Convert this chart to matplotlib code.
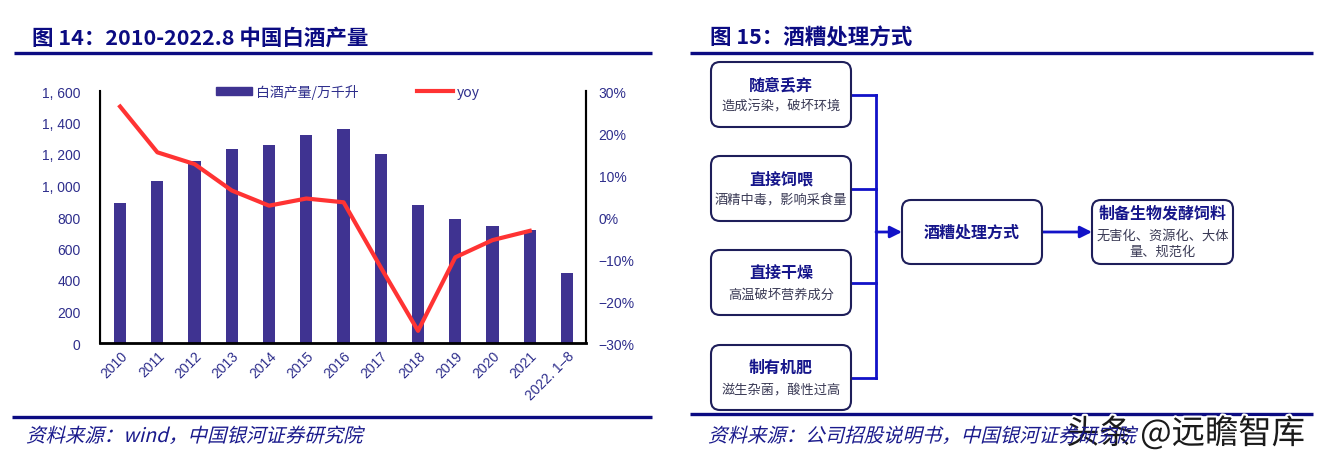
import matplotlib
matplotlib.use('Agg')
import matplotlib.pyplot as plt
from matplotlib.patches import FancyBboxPatch, PathPatch, Patch
from matplotlib.lines import Line2D
from matplotlib.textpath import TextPath
from matplotlib.font_manager import FontProperties
from matplotlib.transforms import Affine2D, IdentityTransform
import matplotlib.patheffects as pe
import numpy as np

plt.rcParams['font.family'] = ['Noto Sans CJK SC', 'DejaVu Sans']

# data
years = ['2010', '2011', '2012', '2013', '2014', '2015', '2016', '2017',
         '2018', '2019', '2020', '2021', '2022. 1\u20138']
production = [890, 1030, 1155, 1230, 1260, 1320, 1360, 1200, 875, 790, 745, 715, 445]
yoy = [26.3, 15.4, 12.6, 6.3, 2.7, 4.4, 3.5, -12.0, -27.1, -9.6, -5.5, -3.3]

left_title = '图 14：2010-2022.8 中国白酒产量'
right_title = '图 15：酒糟处理方式'
left_source = '资料来源：wind，中国银河证券研究院'
right_source = '资料来源：公司招股说明书，中国银河证券研究院'
watermark = '头条 @远瞻智库'

methods = ['随意丢弃', '直接饲喂', '直接干燥', '制有机肥']
effects = ['造成污染，破坏环境', '酒精中毒，影响采食量', '高温破坏营养成分', '滋生杂菌，酸性过高']
center_label = '酒糟处理方式'
result_title = '制备生物发酵饲料'
result_text = '无害化、资源化、大体\n量、规范化'

W, H = 1321, 464
navy = '#0B0B82'
tick_col = '#2E2E8C'
bar_col = '#3F3391'
line_col = '#FF3333'

fig = plt.figure(figsize=(W / 100, H / 100), dpi=100)

# ---- left chart ----
ax = fig.add_axes([100 / W, 1 - 344 / H, 486 / W, 252 / H])
x = np.arange(len(years))
ax.bar(x, production, width=0.33, color=bar_col, label='白酒产量/万千升', zorder=2)
ax.set_xlim(-0.54, 12.51)
ax.set_ylim(0, 1600)
ax.set_yticks(range(0, 1601, 200))
ax.set_yticklabels([f'{v:,}'.replace(',', ', ') for v in range(0, 1601, 200)],
                   family=['Liberation Sans', 'DejaVu Sans'], fontsize=10, color=tick_col)
ax.set_xticks(x)
ax.set_xticklabels(years, rotation=45, ha='right', rotation_mode='anchor',
                   family=['Liberation Sans', 'DejaVu Sans'], fontsize=10, color=tick_col)
ax.tick_params(axis='y', length=0, pad=14)
ax.tick_params(axis='x', length=0, pad=4)
ax.spines['top'].set_visible(False)
ax.spines['left'].set_linewidth(1.5)
ax.spines['bottom'].set_linewidth(2)
ax.spines['right'].set_linewidth(1.5)

ax2 = ax.twinx()
ax2.plot(x[:len(yoy)], yoy, color=line_col, lw=3, label='yoy', zorder=3)
ax2.set_ylim(-30, 30)
ax2.set_yticks(range(-30, 31, 10))
ax2.set_yticklabels([f'{v}%'.replace('-', '\u2212') for v in range(-30, 31, 10)],
                    family=['Liberation Sans', 'DejaVu Sans'], fontsize=10, color=tick_col)
ax2.tick_params(axis='y', length=0, pad=9)
ax2.spines['top'].set_visible(False)
ax2.spines['right'].set_linewidth(1.5)

handles = [Patch(color=bar_col), Line2D([0], [0], color=line_col, lw=3)]
leg = ax2.legend(handles, ['白酒产量/万千升', 'yoy'], loc='center', bbox_to_anchor=(0.51, 1.0),
                 ncol=2, frameon=False, fontsize=10, handlelength=2.6, handleheight=0.5,
                 columnspacing=4.2, handletextpad=0.3)
for t in leg.get_texts():
    t.set_color(tick_col)

# ---- overlay for titles, rules, flowchart ----
ov = fig.add_axes([0, 0, 1, 1])
ov.set_xlim(0, W)
ov.set_ylim(H, 0)
ov.axis('off')

ov.text(32, 38, left_title, fontsize=15.5, fontweight='bold', color=navy, va='center')
ov.text(710, 38, right_title, fontsize=15.5, fontweight='bold', color=navy, va='center')
for x0, x1 in [(14, 652), (690, 1313)]:
    ov.plot([x0, x1], [53.5, 53.5], color=navy, lw=2.4, solid_capstyle='butt')
ov.plot([12, 652], [418, 418], color=navy, lw=2.4, solid_capstyle='butt')
ov.plot([690, 1313], [415, 415], color=navy, lw=2.4, solid_capstyle='butt')


def skew_text(s, x0, y0, size, color):
    fp = FontProperties(family='Noto Sans CJK SC')
    tp = TextPath((0, 0), s, size=size, prop=fp)
    tr = Affine2D().skew_deg(14, 0).scale(100 / 72).translate(x0, H - y0)
    fig.patches.append(PathPatch(tp, transform=tr + IdentityTransform(),
                                 facecolor=color, edgecolor='none', figure=fig))


skew_text(left_source, 26, 443, 14, '#1A1A8C')
skew_text(right_source, 708, 443, 14, '#1A1A8C')

box_edge = '#1E1E5A'
title_col = '#15158A'
sub_col = '#3A3A55'
link_col = '#1212C8'


def box(x0, y0, x1, y1):
    ov.add_patch(FancyBboxPatch((x0, y0), x1 - x0, y1 - y0,
                                boxstyle='round,pad=0,rounding_size=9',
                                fc='white', ec=box_edge, lw=1.5, zorder=3))


box_tops = [63, 157, 251, 346]
bh = 65
for top, m, e in zip(box_tops, methods, effects):
    box(711, top, 851, top + bh)
    ov.text(781, top + 22, m, ha='center', va='center', fontsize=11.5,
            fontweight='bold', color=title_col, zorder=4)
    ov.text(781, top + 44, e, ha='center', va='center', fontsize=9.5,
            color=sub_col, zorder=4)
    ov.plot([851, 876], [top + bh / 2, top + bh / 2], color=link_col, lw=2, zorder=2)
ov.plot([876, 876], [box_tops[0] + bh / 2, box_tops[-1] + bh / 2], color=link_col, lw=2,
        zorder=2, solid_joinstyle='round')

box(902, 201, 1042, 265)
ov.text(972, 233, center_label, ha='center', va='center', fontsize=11.5,
        fontweight='bold', color=title_col, zorder=4)
box(1092, 201, 1233, 265)
ov.text(1162.5, 214, result_title, ha='center', va='center', fontsize=11.5,
        fontweight='bold', color=title_col, zorder=4)
ov.text(1162.5, 244, result_text, ha='center', va='center', fontsize=9.5,
        color=sub_col, linespacing=1.35, zorder=4)

for xa, xb in [(876, 902), (1042, 1092)]:
    ov.annotate('', xy=(xb, 233), xytext=(xa, 233),
                arrowprops=dict(arrowstyle='-|>,head_length=0.7,head_width=0.35',
                                color=link_col, lw=2, shrinkA=0, shrinkB=0), zorder=2)

ov.text(1066, 435, watermark, fontsize=24, color='#1A1A1A', va='center', zorder=6,
        path_effects=[pe.withStroke(linewidth=3, foreground='white')])

fig.savefig('out.png', dpi=100)
